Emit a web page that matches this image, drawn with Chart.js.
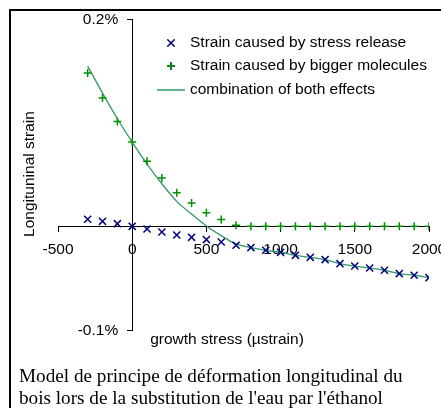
<!DOCTYPE html>
<html>
<head>
<meta charset="utf-8">
<script src="https://cdn.jsdelivr.net/npm/chart.js@4.4.0/dist/chart.umd.min.js"></script>
<style>
  html, body { margin: 0; padding: 0; background: #fff; }
  #wrap { position: relative; width: 441px; height: 408px; overflow: hidden; }
  #frame { position: absolute; left: 9px; top: 9px; width: 600px; height: 600px;
           border-left: 2px solid #000; border-top: 2px solid #000; }
  canvas { position: absolute; left: 0; top: 0; }
  #caption { position: absolute; left: 19px; top: 365px; color: #000; white-space: nowrap;
             font: 19.2px/22px "Liberation Serif", "Times New Roman", serif; }
</style>
</head>
<body>
<div id="wrap">
  <div id="frame"></div>
  <canvas id="chart" width="441" height="408"></canvas>
  <div id="caption">Model de principe de déformation longitudinal du<br>bois lors de la substitution de l'eau par l'éthanol</div>
</div>
<script>
// growth stress (µstrain)
const stress = [-300, -200, -100, 0, 100, 200, 300, 400, 500, 600, 700, 800,
                900, 1000, 1100, 1200, 1300, 1400, 1500, 1600, 1700, 1800, 1900, 2000];

// longitudinal strain (%)
const releaseStrain = [0.0068, 0.0048, 0.0026, 0, -0.0026, -0.0055, -0.0084, -0.0106,
                       -0.0128, -0.0151, -0.0183, -0.0205, -0.0231, -0.0251, -0.0280, -0.0299,
                       -0.0321, -0.0360, -0.0383, -0.0402, -0.0424, -0.0456, -0.0472, -0.0495];
const moleculeStrain = [0.1478, 0.1237, 0.1012, 0.0813, 0.0627, 0.0466, 0.0325, 0.0225,
                        0.0132, 0.0065, 0.0010, 0, 0, 0, 0, 0,
                        0, 0, 0, 0, 0, 0, 0, 0];
const combinedStrain = [0.1546, 0.1285, 0.1038, 0.0813, 0.0601, 0.0411, 0.0241, 0.0119,
                        0.0004, -0.0090, -0.0170, -0.0205, -0.0231, -0.0251, -0.0280, -0.0299,
                        -0.0321, -0.0360, -0.0383, -0.0402, -0.0424, -0.0456, -0.0472, -0.0495];

const seriesNames = ['Strain caused by stress release', 'Strain caused by bigger molecules', 'combination of both effects'];
const yTicks = [-0.1, 0.2];
const xTitle = 'growth stress (µstrain)';
const yTitle = 'Longituninal strain';

const FONT = 'Liberation Sans, Arial, sans-serif';
const FSIZE = 15.5;

function pts(ys) {
    return stress.map((x, i) => ({ x: x, y: ys[i] }));
}

// legende, étiquettes de l'axe Y et titres des axes
const extras = {
    id: 'extras',
    afterDraw(chart) {
        const ctx = chart.ctx;
        ctx.save();
        ctx.fillStyle = '#000';
        ctx.font = FSIZE + 'px ' + FONT;
        ctx.textBaseline = 'middle';

        const ds = chart.data.datasets;
        const rows = [43, 66, 90];
        ds.forEach((d, i) => {
            const y = rows[i];
            ctx.textAlign = 'left';
            ctx.fillStyle = '#000';
            ctx.fillText(d.label, 190, y);
            if (d.showLine) {
                ctx.strokeStyle = d.borderColor;
                ctx.lineWidth = 1.5;
                ctx.beginPath();
                ctx.moveTo(157, y);
                ctx.lineTo(185, y);
                ctx.stroke();
            } else {
                Chart.helpers.drawPoint(ctx, {
                    pointStyle: d.pointStyle, radius: d.pointRadius,
                    borderWidth: d.borderWidth, rotation: 0
                }, 171, y);
                ctx.strokeStyle = d.borderColor;
                ctx.lineWidth = d.borderWidth;
                ctx.stroke();
            }
        });

        // étiquettes de l'axe Y à gauche de l'axe
        const sx = chart.scales.x, sy = chart.scales.y;
        const axisX = sx.getPixelForValue(0);
        ctx.fillStyle = '#000';
        ctx.textAlign = 'right';
        yTicks.forEach(v => {
            ctx.fillText(v.toFixed(1) + '%', axisX - 14, sy.getPixelForValue(v) + 0.5);
        });

        ctx.textAlign = 'center';
        ctx.fillText(xTitle, 227, 340);
        ctx.translate(30, 174);
        ctx.rotate(-Math.PI / 2);
        ctx.fillText(yTitle, 0, 0);
        ctx.restore();
    }
};

const noPad = s => { s.paddingLeft = 0; s.paddingRight = 0; s.paddingTop = 0; s.paddingBottom = 0; };

new Chart(document.getElementById('chart').getContext('2d'), {
    type: 'scatter',
    data: {
        datasets: [{
            label: seriesNames[0],
            data: pts(releaseStrain),
            pointStyle: 'crossRot',
            pointRadius: 5,
            borderWidth: 1.5,
            borderColor: '#000080',
            backgroundColor: '#000080',
            showLine: false
        }, {
            label: seriesNames[1],
            data: pts(moleculeStrain),
            pointStyle: 'cross',
            pointRadius: 4,
            borderWidth: 1.5,
            borderColor: '#009000',
            backgroundColor: '#009000',
            showLine: false
        }, {
            label: seriesNames[2],
            data: pts(combinedStrain),
            showLine: true,
            pointRadius: 0,
            borderWidth: 1.3,
            borderColor: '#339966',
            backgroundColor: '#339966',
            cubicInterpolationMode: 'monotone'
        }]
    },
    options: {
        responsive: false,
        animation: false,
        devicePixelRatio: 1,
        layout: { padding: { left: 58, right: 12, top: 19, bottom: 78 } },
        plugins: { legend: { display: false }, tooltip: { enabled: false } },
        scales: {
            x: {
                type: 'linear',
                min: -500,
                max: 2000,
                position: { y: 0 },
                afterFit: noPad,
                ticks: { stepSize: 500, autoSkip: false, maxRotation: 0, padding: 9,
                         color: '#000', font: { family: FONT, size: FSIZE },
                         callback: v => String(v) },
                grid: { drawOnChartArea: false, tickLength: 5, color: '#000' },
                border: { color: '#000', width: 1 }
            },
            y: {
                type: 'linear',
                min: -0.1,
                max: 0.2,
                position: { x: 0 },
                afterFit: noPad,
                afterBuildTicks: s => { s.ticks = yTicks.map(v => ({ value: v })); },
                ticks: { display: false },
                grid: { drawOnChartArea: false, tickLength: 5, color: '#000' },
                border: { color: '#000', width: 1 }
            }
        }
    },
    plugins: [extras]
});
</script>
</body>
</html>
